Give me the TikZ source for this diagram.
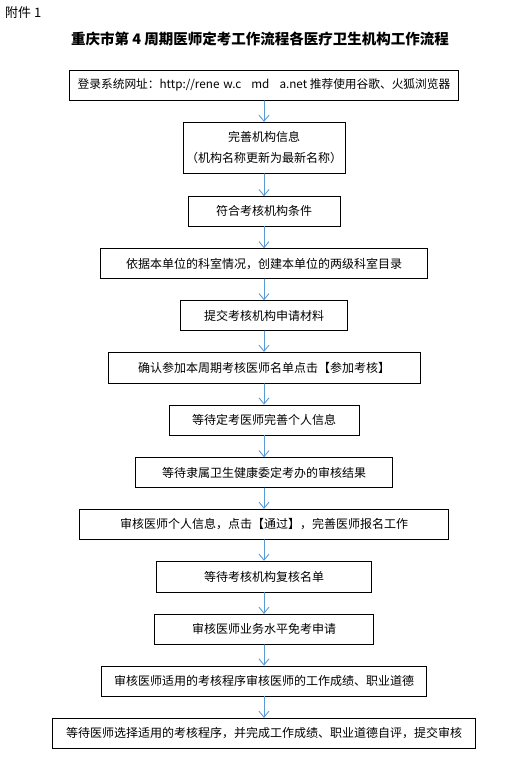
\documentclass[tikz,border=0pt]{standalone}
\usepackage{fontspec}
\setmainfont{Noto Sans CJK SC}
\usetikzlibrary{arrows.meta}
\usepackage{xcolor}
\definecolor{flowblue}{RGB}{91,155,213}

\begin{document}
\begin{tikzpicture}[
  x=1pt,y=-1pt,
  line cap=round,line join=miter,
  stepbox/.style={draw=black,line width=0.9pt,minimum height=30pt,inner sep=0pt,
    font=\fontsize{12pt}{15pt}\selectfont,align=center},
  flow/.style={-{Straight Barb[length=6pt,width=10pt]},draw=flowblue,line width=0.9pt}
]
  \path[use as bounding box] (0,0) rectangle (520,763);

  \node[anchor=west,inner sep=0pt,font=\fontsize{13pt}{15pt}\selectfont] (annex) at (5,13) {附件 1};
  \node[inner sep=0pt,font=\fontsize{14.5pt}{17pt}\selectfont\bfseries] (title) at (260,39)
    {重庆市第 4 周期医师定考工作流程各医疗卫生机构工作流程};

  \node[stepbox,minimum width=389pt] (login) at (264,85.3)
    {\fontsize{11.7pt}{15pt}\selectfont 登录系统网址：http://rene\hspace{4pt}w.c\hspace{10pt}md\hspace{10pt}a.net 推荐使用谷歌、火狐浏览器};
  \node[stepbox,minimum width=162pt,minimum height=51pt] (info) at (264,147.8)
    {完善机构信息\\[5.7pt]（机构名称更新为最新名称）};
  \node[stepbox,minimum width=152pt,minimum height=29.3pt] (cond) at (264,211.3) {符合考核机构条件};
  \node[stepbox,minimum width=327pt] (dept) at (264,263.7) {依据本单位的科室情况，创建本单位的两级科室目录};
  \node[stepbox,minimum width=167pt] (submit) at (264,315.7) {提交考核机构申请材料};
  \node[stepbox,minimum width=312pt,minimum height=31pt] (confirm) at (264,367.8) {确认参加本周期考核医师名单点击【参加考核】};
  \node[stepbox,minimum width=190pt] (waitdoc) at (264,420) {等待定考医师完善个人信息};
  \node[stepbox,minimum width=257pt] (waitgov) at (264,472.7) {等待隶属卫生健康委定考办的审核结果};
  \node[stepbox,minimum width=369pt] (review) at (264,524.3) {审核医师个人信息，点击【通过】，完善医师报名工作};
  \node[stepbox,minimum width=215pt,minimum height=31pt] (recheck) at (264,576.7) {等待考核机构复核名单};
  \node[stepbox,minimum width=219pt] (exempt) at (264,629.3) {审核医师业务水平免考申请};
  \node[stepbox,minimum width=325pt] (ethics) at (264,681) {审核医师适用的考核程序审核医师的工作成绩、职业道德};
  \node[stepbox,minimum width=423pt] (final) at (264,733.3) {等待医师选择适用的考核程序，并完成工作成绩、职业道德自评，提交审核};

  \foreach \a/\b in {login/info,info/cond,cond/dept,dept/submit,submit/confirm,confirm/waitdoc,
    waitdoc/waitgov,waitgov/review,review/recheck,recheck/exempt,exempt/ethics,ethics/final} {
    \draw[flow] (\a) -- (\b);
  }
\end{tikzpicture}
\end{document}
